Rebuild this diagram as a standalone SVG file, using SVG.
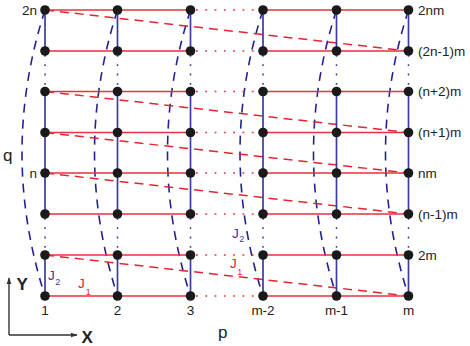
<svg xmlns="http://www.w3.org/2000/svg" width="470" height="346" viewBox="0 0 470 346">
<defs>
<marker id="ah" viewBox="0 0 10 10" refX="9" refY="5" markerWidth="7" markerHeight="7" orient="auto" markerUnits="userSpaceOnUse">
<path d="M0,1.5 L10,5 L0,8.5 z" fill="#333"/>
</marker>
<style>
.hs{stroke:#e8323c;stroke-width:1.7;fill:none}
.hd{stroke:#e8323c;stroke-width:1.5;stroke-dasharray:1.8 7.5;fill:none}
.vs{stroke:#3c3c9e;stroke-width:1.7;fill:none}
.vd{stroke:#3c3c9e;stroke-width:1.5;stroke-dasharray:1.8 7.5;fill:none}
.rd{stroke:#e8232f;stroke-width:1.5;stroke-dasharray:9 6;fill:none}
.bd{stroke:#23238f;stroke-width:1.6;stroke-dasharray:9 7;fill:none}
.ax{stroke:#333;stroke-width:1.4;fill:none}
.nd{fill:#1a1a1a}
.t{font-family:"Liberation Sans",Arial,sans-serif;font-size:13.5px;fill:#222}
.big{font-family:"Liberation Sans",Arial,sans-serif;font-size:17px;fill:#222}
.ab{font-family:"Liberation Sans",Arial,sans-serif;font-size:17px;font-weight:bold;fill:#222}
.jb{font-family:"Liberation Sans",Arial,sans-serif;font-size:13.5px;fill:#3c3c9e}
.jr{font-family:"Liberation Sans",Arial,sans-serif;font-size:13.5px;fill:#e8232f}
.sub{font-size:9px}
</style>
</defs>
<g id="connectors">
<path class="bd" d="M45,10 Q-1,153 45,296"/>
<path class="bd" d="M117.5,10 Q71.5,153 117.5,296"/>
<path class="bd" d="M190.5,10 Q144.5,153 190.5,296"/>
<path class="bd" d="M263,10 Q217,153 263,296"/>
<path class="bd" d="M336.5,10 Q290.5,153 336.5,296"/>
<path class="bd" d="M408.5,10 Q362.5,153 408.5,296"/>
<path class="rd" d="M45,10 L408.5,51"/>
<path class="rd" d="M45,91.5 L408.5,132.5"/>
<path class="rd" d="M45,132.5 L408.5,173"/>
<path class="rd" d="M45,173 L408.5,214"/>
<path class="rd" d="M45,255 L408.5,296"/>
<g class="vs">
<path d="M45,10V51M117.5,10V51M190.5,10V51M263,10V51M336.5,10V51M408.5,10V51"/>
<path d="M45,91.5V214M117.5,91.5V214M190.5,91.5V214M263,91.5V214M336.5,91.5V214M408.5,91.5V214"/>
<path d="M45,255V296M117.5,255V296M190.5,255V296M263,255V296M336.5,255V296M408.5,255V296"/>
</g>
<g class="vd">
<path d="M45,55V88M117.5,55V88M190.5,55V88M263,55V88M336.5,55V88M408.5,55V88"/>
<path d="M45,218V251M117.5,218V251M190.5,218V251M263,218V251M336.5,218V251M408.5,218V251"/>
</g>
<g class="hs">
<path d="M45,10H190.5M263,10H408.5M45,51H190.5M263,51H408.5M45,91.5H190.5M263,91.5H408.5M45,132.5H190.5M263,132.5H408.5"/>
<path d="M45,173H190.5M263,173H408.5M45,214H190.5M263,214H408.5M45,255H190.5M263,255H408.5M45,296H190.5M263,296H408.5"/>
</g>
<g class="hd">
<path d="M196,10H259M196,51H259M196,91.5H259M196,132.5H259M196,173H259M196,214H259M196,255H259M196,296H259"/>
</g>
</g>
<g id="nodes">
<g id="row7"><circle class="nd" cx="45" cy="10" r="4.8"/><circle class="nd" cx="117.5" cy="10" r="4.8"/><circle class="nd" cx="190.5" cy="10" r="4.8"/><circle class="nd" cx="263" cy="10" r="4.8"/><circle class="nd" cx="336.5" cy="10" r="4.8"/><circle class="nd" cx="408.5" cy="10" r="4.8"/></g>
<g id="row6"><circle class="nd" cx="45" cy="51" r="4.8"/><circle class="nd" cx="117.5" cy="51" r="4.8"/><circle class="nd" cx="190.5" cy="51" r="4.8"/><circle class="nd" cx="263" cy="51" r="4.8"/><circle class="nd" cx="336.5" cy="51" r="4.8"/><circle class="nd" cx="408.5" cy="51" r="4.8"/></g>
<g id="row5"><circle class="nd" cx="45" cy="91.5" r="4.8"/><circle class="nd" cx="117.5" cy="91.5" r="4.8"/><circle class="nd" cx="190.5" cy="91.5" r="4.8"/><circle class="nd" cx="263" cy="91.5" r="4.8"/><circle class="nd" cx="336.5" cy="91.5" r="4.8"/><circle class="nd" cx="408.5" cy="91.5" r="4.8"/></g>
<g id="row4"><circle class="nd" cx="45" cy="132.5" r="4.8"/><circle class="nd" cx="117.5" cy="132.5" r="4.8"/><circle class="nd" cx="190.5" cy="132.5" r="4.8"/><circle class="nd" cx="263" cy="132.5" r="4.8"/><circle class="nd" cx="336.5" cy="132.5" r="4.8"/><circle class="nd" cx="408.5" cy="132.5" r="4.8"/></g>
<g id="row3"><circle class="nd" cx="45" cy="173" r="4.8"/><circle class="nd" cx="117.5" cy="173" r="4.8"/><circle class="nd" cx="190.5" cy="173" r="4.8"/><circle class="nd" cx="263" cy="173" r="4.8"/><circle class="nd" cx="336.5" cy="173" r="4.8"/><circle class="nd" cx="408.5" cy="173" r="4.8"/></g>
<g id="row2"><circle class="nd" cx="45" cy="214" r="4.8"/><circle class="nd" cx="117.5" cy="214" r="4.8"/><circle class="nd" cx="190.5" cy="214" r="4.8"/><circle class="nd" cx="263" cy="214" r="4.8"/><circle class="nd" cx="336.5" cy="214" r="4.8"/><circle class="nd" cx="408.5" cy="214" r="4.8"/></g>
<g id="row1"><circle class="nd" cx="45" cy="255" r="4.8"/><circle class="nd" cx="117.5" cy="255" r="4.8"/><circle class="nd" cx="190.5" cy="255" r="4.8"/><circle class="nd" cx="263" cy="255" r="4.8"/><circle class="nd" cx="336.5" cy="255" r="4.8"/><circle class="nd" cx="408.5" cy="255" r="4.8"/></g>
<g id="row0"><circle class="nd" cx="45" cy="296" r="4.8"/><circle class="nd" cx="117.5" cy="296" r="4.8"/><circle class="nd" cx="190.5" cy="296" r="4.8"/><circle class="nd" cx="263" cy="296" r="4.8"/><circle class="nd" cx="336.5" cy="296" r="4.8"/><circle class="nd" cx="408.5" cy="296" r="4.8"/></g>
</g>
<g id="labels">
<text class="t" x="37" y="14.5" text-anchor="end">2n</text>
<text class="t" x="37" y="177.5" text-anchor="end">n</text>
<text class="t" x="418" y="14.5">2nm</text>
<text class="t" x="418" y="55.5">(2n-1)m</text>
<text class="t" x="418" y="96">(n+2)m</text>
<text class="t" x="418" y="137">(n+1)m</text>
<text class="t" x="418" y="177.5">nm</text>
<text class="t" x="418" y="218.5">(n-1)m</text>
<text class="t" x="418" y="259.5">2m</text>
<text class="t" x="45" y="315" text-anchor="middle">1</text>
<text class="t" x="117.5" y="315" text-anchor="middle">2</text>
<text class="t" x="190.5" y="315" text-anchor="middle">3</text>
<text class="t" x="263" y="315" text-anchor="middle">m-2</text>
<text class="t" x="336.5" y="315" text-anchor="middle">m-1</text>
<text class="t" x="408.5" y="315" text-anchor="middle">m</text>
<text class="big" x="3" y="161">q</text>
<text class="big" x="218" y="338">p</text>
<text class="jb" x="48" y="280">J<tspan class="sub" dx="0.5" dy="5">2</tspan></text>
<text class="jr" x="78" y="287.5">J<tspan class="sub" dx="1" dy="7">1</tspan></text>
<text class="jb" x="232" y="237.5">J<tspan class="sub" dx="0.5" dy="4">2</tspan></text>
<text class="jr" x="230" y="268">J<tspan class="sub" dx="0.5" dy="7">1</tspan></text>
</g>
<g id="axes">
<path class="ax" d="M9,335V278" marker-end="url(#ah)"/>
<path class="ax" d="M9,335H77" marker-end="url(#ah)"/>
<text class="ab" x="16.5" y="289.5">Y</text>
<text class="ab" x="81.5" y="343">X</text>
</g>
</svg>
